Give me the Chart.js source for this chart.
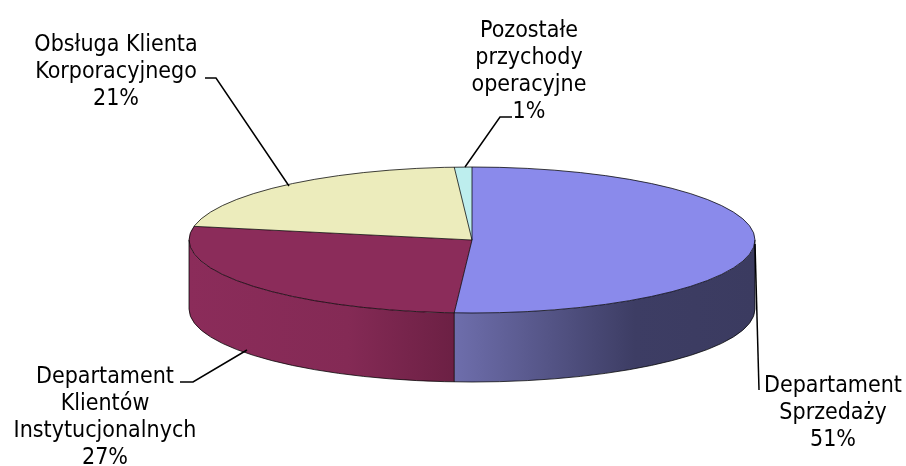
<!DOCTYPE html>
<html>
<head>
<meta charset="utf-8">
<script src="https://cdn.jsdelivr.net/npm/chart.js@4/dist/chart.umd.min.js"></script>
<style>
  html, body { margin: 0; padding: 0; background: #fff; }
  #wrap { width: 906px; height: 466px; }
</style>
</head>
<body>
<div id="wrap"><canvas id="wykres"></canvas></div>
<script>
// Dane
const kategorie = [
    ["Departament", "Sprzedaży"],
    ["Departament", "Klientów", "Instytucjonalnych"],
    ["Obsługa Klienta", "Korporacyjnego"],
    ["Pozostałe", "przychody", "operacyjne"]
];
const udzialy = [51, 27, 21, 1];

// Kolory
const koloryGora = ["#8a8aeb", "#8b2c5a", "#ececbc", "#bdeeee"];
const koloryBok = [
    ["#6e6eac", "#3d3d64", "#3b3b60"],
    ["#8b2c5a", "#842a55", "#6c2044"]
];

const SKALA_Y = 73 / 283;
const GLEBOKOSC = 69;
const CZCIONKA = '23px "DejaVu Sans Condensed", "DejaVu Sans", sans-serif';

// Rozmieszczenie etykiet (środek tekstu, linia bazowa, linia odniesienia)
const etykiety = [
    { x: 833, y: 392, linia: [[755, 244], [759, 390]] },
    { x: 105, y: 383, linia: [[180, 382], [193, 382], [247, 350]] },
    { x: 116, y: 51, linia: [[205, 78], [216, 78], [289, 186]] },
    { x: 529, y: 37, linia: [[512, 117], [500, 117], [465, 167]] }
];

function geometria(chart) {
    return chart.getDatasetMeta(0).data.map(a =>
        a.getProps(["x", "y", "startAngle", "endAngle", "outerRadius"], true));
}

const pie3d = {
    id: "pie3d",
    beforeDatasetsDraw(chart) {
        const ctx = chart.ctx;
        const luki = geometria(chart);
        // boki (tylko przednia połowa)
        luki.forEach((a, i) => {
            if (!koloryBok[i]) return;
            const r = a.outerRadius, ry = r * SKALA_Y;
            for (const k of [-1, 0, 1]) {
                const s = Math.max(a.startAngle, 2 * Math.PI * k);
                const e = Math.min(a.endAngle, 2 * Math.PI * k + Math.PI);
                if (e <= s) continue;
                const xl = a.x + r * Math.cos(e), xr = a.x + r * Math.cos(s);
                const g = ctx.createLinearGradient(xl, 0, xr, 0);
                g.addColorStop(0, koloryBok[i][0]);
                g.addColorStop(0.6, koloryBok[i][1]);
                g.addColorStop(1, koloryBok[i][2]);
                ctx.save();
                ctx.beginPath();
                ctx.ellipse(a.x, a.y, r, ry, 0, s, e);
                ctx.ellipse(a.x, a.y + GLEBOKOSC, r, ry, 0, e, s, true);
                ctx.closePath();
                ctx.fillStyle = g;
                ctx.fill();
                ctx.restore();
            }
        });
        // spłaszczenie wierzchu
        const c = luki[0];
        ctx.save();
        ctx.translate(0, c.y);
        ctx.scale(1, SKALA_Y);
        ctx.translate(0, -c.y);
    },
    afterDatasetsDraw(chart) {
        const ctx = chart.ctx;
        ctx.restore();
        const luki = geometria(chart);
        const a0 = luki[0];
        const r = a0.outerRadius, ry = r * SKALA_Y;
        ctx.save();
        ctx.strokeStyle = "rgba(0,0,0,0.75)";
        ctx.lineWidth = 1;
        ctx.beginPath();
        ctx.ellipse(a0.x, a0.y, r, ry, 0, 0, 2 * Math.PI);
        ctx.stroke();
        ctx.beginPath();
        ctx.ellipse(a0.x, a0.y + GLEBOKOSC, r, ry, 0, 0, Math.PI);
        ctx.stroke();
        ctx.beginPath();
        for (const kat of [0, Math.PI]) {
            const px = a0.x + r * Math.cos(kat);
            ctx.moveTo(px, a0.y);
            ctx.lineTo(px, a0.y + GLEBOKOSC);
        }
        luki.forEach(a => {
            const kat = a.startAngle;
            const px = a.x + r * Math.cos(kat), py = a.y + ry * Math.sin(kat);
            ctx.moveTo(a.x, a.y);
            ctx.lineTo(px, py);
            let m = ((kat % (2 * Math.PI)) + 2 * Math.PI) % (2 * Math.PI);
            if (m > 0.001 && m < Math.PI - 0.001) {
                ctx.moveTo(px, py);
                ctx.lineTo(px, py + GLEBOKOSC);
            }
        });
        ctx.stroke();
        ctx.restore();
    },
    afterDraw(chart) {
        const ctx = chart.ctx;
        const suma = udzialy.reduce((s, v) => s + v, 0);
        ctx.save();
        ctx.strokeStyle = "#000";
        ctx.lineWidth = 1.5;
        etykiety.forEach(e => {
            ctx.beginPath();
            e.linia.forEach((p, j) => j ? ctx.lineTo(p[0], p[1]) : ctx.moveTo(p[0], p[1]));
            ctx.stroke();
        });
        ctx.fillStyle = "#000";
        ctx.font = CZCIONKA;
        ctx.textAlign = "center";
        ctx.textBaseline = "alphabetic";
        kategorie.forEach((linie, i) => {
            const e = etykiety[i];
            const tekst = linie.concat([Math.round(udzialy[i] / suma * 100) + "%"]);
            tekst.forEach((t, j) => ctx.fillText(t, e.x, e.y + j * 27));
        });
        ctx.restore();
    }
};

new Chart(document.getElementById("wykres"), {
    type: "pie",
    data: {
        labels: kategorie.map(k => k.join(" ")),
        datasets: [{
            data: udzialy,
            backgroundColor: koloryGora,
            borderWidth: 0,
            radius: 283,
            clip: false
        }]
    },
    options: {
        responsive: true,
        maintainAspectRatio: false,
        animation: false,
        events: [],
        layout: { padding: { left: 38, top: 14, right: 0, bottom: 0 } },
        plugins: { legend: { display: false }, tooltip: { enabled: false } }
    },
    plugins: [pie3d]
});
</script>
</body>
</html>
